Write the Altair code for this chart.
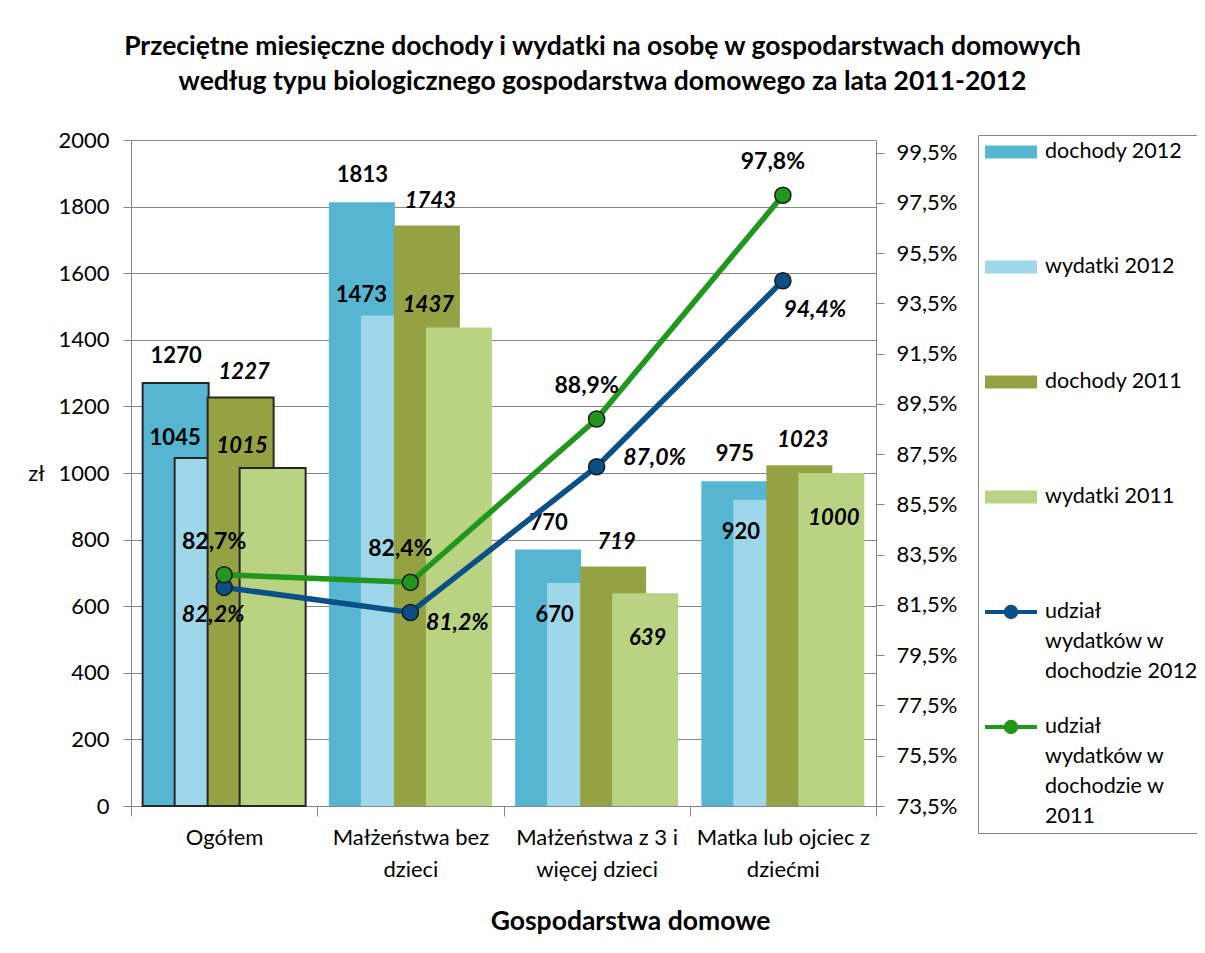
import altair as alt
import pandas as pd

categories = ["Ogółem", "Małżeństwa bez\ndzieci", "Małżeństwa z 3 i\nwięcej dzieci", "Matka lub ojciec z\ndziećmi"]
series_bars = ["dochody 2012", "wydatki 2012", "dochody 2011", "wydatki 2011"]
series_lines = ["udział\nwydatków w\ndochodzie 2012", "udział\nwydatków w\ndochodzie w\n2011"]

dochody_2012 = [1270, 1813, 770, 975]
wydatki_2012 = [1045, 1473, 670, 920]
dochody_2011 = [1227, 1743, 719, 1023]
wydatki_2011 = [1015, 1437, 639, 1000]
udzial_2012 = [0.822, 0.812, 0.870, 0.944]
udzial_2011 = [0.827, 0.824, 0.889, 0.978]

left_ticks = [0, 200, 400, 600, 800, 1000, 1200, 1400, 1600, 1800, 2000]
right_ticks = [0.735, 0.755, 0.775, 0.795, 0.815, 0.835, 0.855, 0.875,
               0.895, 0.915, 0.935, 0.955, 0.975, 0.995]

title_lines = ["Przeciętne miesięczne  dochody i wydatki na osobę  w gospodarstwach domowych",
               "według typu biologicznego gospodarstwa domowego za lata 2011-2012"]

bar_colors = ["#56B6D2", "#9ED7E9", "#95A244", "#B9D383"]
line_colors = ["#0A4F86", "#20961C"]

GRAY = "#868686"
FONT = "Lato"

bar_values = [dochody_2012, wydatki_2012, dochody_2011, wydatki_2011]
bars_df = pd.DataFrame([
    {"kat": categories[i], "seria": s, "wartosc": vals[i]}
    for s, vals in zip(series_bars, bar_values) for i in range(len(categories))
])
line_values = [udzial_2012, udzial_2011]
lines_df = pd.DataFrame([
    {"kat": categories[i], "seria": s, "udzial": vals[i]}
    for s, vals in zip(series_lines, line_values) for i in range(len(categories))
])

all_series = series_bars + series_lines
# legend symbol paths (unit = sqrt(symbolSize)/2 = 10 px, symbol centre 10 px from the left)
RECT_PATH = "M-0.8,-0.45H4V0.45H-0.8Z"
LINE_PATH = "M-1,0H4.2M2.12,0A0.52,0.52,0,1,1,1.08,0A0.52,0.52,0,1,1,2.12,0Z"

legend = alt.Legend(
    title=None, orient="none", legendX=847, legendY=-5, direction="vertical",
    gridAlign="all", rowPadding=0, symbolSize=400, symbolStrokeWidth=4,
    labelExpr="split(datum.label, '\\n')", labelFont=FONT, labelFontSize=21.5,
    labelColor="black", labelOffset=38, labelLimit=300, padding=5,
    strokeColor=GRAY, labelBaseline="middle",
)

color_enc = alt.Color("seria:N",
                      scale=alt.Scale(domain=all_series, range=bar_colors + line_colors),
                      legend=legend)
shape_enc = alt.Shape("seria:N",
                      scale=alt.Scale(domain=all_series, range=[RECT_PATH] * 4 + [LINE_PATH] * 2),
                      legend=legend)

x_enc = alt.X("kat:N", sort=categories,
              scale=alt.Scale(paddingInner=0, paddingOuter=0),
              axis=alt.Axis(title="Gospodarstwa domowe", labelExpr="split(datum.label, '\\n')",
                            labelAngle=0, tickBand="extent", tickSize=10, tickColor=GRAY,
                            domainColor=GRAY, labelFontSize=22, labelLineHeight=32,
                            labelPadding=11, labelColor="black", titleFontSize=26.5,
                            titleFontWeight="bold", titlePadding=28, titleColor="black",
                            titleX=499, titleAlign="center",
                            grid=False))

y_left = alt.Y("wartosc:Q",
               scale=alt.Scale(domain=[0, 2000], nice=False),
               axis=alt.Axis(values=left_ticks, format="d", title="zł", titleAngle=0,
                             titleX=-95, titleY=333,
                             titleAlign="center", titleBaseline="middle", titleFontWeight="normal",
                             titleFontSize=22, titleColor="black", tickSize=8, labelPadding=14,
                             labelFontSize=22, labelColor="black", labelFlush=False, grid=True,
                             gridColor=GRAY, domainColor=GRAY, tickColor=GRAY))

y_right = alt.Y("udzial:Q",
                scale=alt.Scale(domain=[0.735, 1.0], nice=False, zero=False),
                axis=alt.Axis(orient="right", values=right_ticks,
                              labelExpr="replace(format(datum.value, '.1%'), '.', ',')",
                              title=None, grid=False, tickSize=8, labelPadding=12,
                              labelFontSize=22, labelColor="black", labelFlush=False,
                              domainColor=GRAY, tickColor=GRAY))

offsets = [-48.5, -16.5, 16.5, 48.5]
base_bars = alt.Chart(bars_df)
left_layers = []
for s, off in zip(series_bars, offsets):
    left_layers.append(
        base_bars.transform_filter(alt.datum.seria == s)
        .mark_bar(width=66, xOffset=off, stroke="#262626")
        .encode(x=x_enc, y=y_left, color=color_enc,
                strokeWidth=alt.condition(alt.datum.kat == categories[0], alt.value(2), alt.value(0)))
    )


def bar_text(s, cond, dx, dy, italic):
    ch = base_bars.transform_filter(alt.datum.seria == s)
    if cond is not None:
        ch = ch.transform_filter(cond)
    return ch.mark_text(dx=dx, dy=dy, fontSize=22, fontWeight="bold",
                        fontStyle="italic" if italic else "normal",
                        align="center", baseline="middle", color="black").encode(
        x=x_enc, y=y_left, text=alt.Text("wartosc:Q", format="d"))


left_layers += [
    bar_text(series_bars[0], None, -48, -27, False),
    bar_text(series_bars[1], alt.datum.wartosc > 1000, -49, -20, False),
    bar_text(series_bars[1], alt.datum.wartosc <= 1000, -42, 32, False),
    bar_text(series_bars[2], None, 20, -25, True),
    bar_text(series_bars[3], alt.datum.wartosc > 1000, 18, -22, True),
    bar_text(series_bars[3], alt.datum.wartosc <= 1000, 51, 45, True),
]

base_lines = alt.Chart(lines_df).transform_calculate(
    pct="replace(format(datum.udzial, '.1%'), '.', ',')")
right_layers = []
for s in series_lines:
    right_layers.append(
        base_lines.transform_filter(alt.datum.seria == s)
        .mark_line(strokeWidth=5.5)
        .encode(x=x_enc, y=y_right, color=color_enc))
for s in series_lines:
    right_layers.append(
        base_lines.transform_filter(alt.datum.seria == s)
        .mark_point(filled=True, size=260, stroke="#1a1a1a", strokeWidth=1.5, opacity=1)
        .encode(x=x_enc, y=y_right, color=color_enc))

# legend-only layer: draws nothing, supplies per-series symbol shapes
right_layers.append(
    alt.Chart(lines_df).transform_filter("false")
    .mark_point(filled=True)
    .encode(x=x_enc, y=y_right, color=color_enc, shape=shape_enc))

right_layers.append(
    base_lines.transform_filter(alt.datum.seria == series_lines[1])
    .mark_text(dx=-10, dy=-33, fontSize=23, fontWeight="bold", color="black")
    .encode(x=x_enc, y=y_right, text="pct:N"))
blue_offsets = [(-11, 28), (47, 11), (58, -9), (32, 29)]
for cat, (dx, dy) in zip(categories, blue_offsets):
    right_layers.append(
        base_lines.transform_filter((alt.datum.seria == series_lines[0]) & (alt.datum.kat == cat))
        .mark_text(dx=dx, dy=dy, fontSize=23, fontWeight="bold", fontStyle="italic", color="black")
        .encode(x=x_enc, y=y_right, text="pct:N"))

chart = alt.layer(
    alt.layer(*left_layers),
    alt.layer(*right_layers),
).resolve_scale(y="independent").properties(
    width=745, height=666,
    title=alt.TitleParams(text=title_lines, fontSize=26.5, fontWeight="bold", anchor="middle",
                          dx=99, offset=34, lineHeight=35, color="black", font=FONT),
    padding={"left": 123, "top": 132, "right": 321, "bottom": 139},
    autosize=alt.AutoSizeParams(type="none"),
).configure(
    font=FONT, background="white",
    style={"guide-label": {"lineHeight": 30}},
).configure_view(stroke=None)

chart.save("out.html", embed_options={"renderer": "svg", "actions": False})
